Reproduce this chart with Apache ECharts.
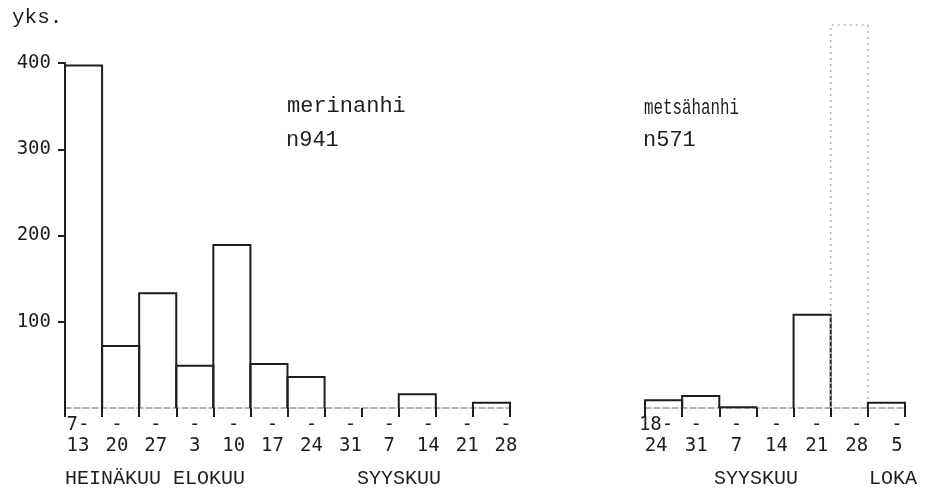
<!DOCTYPE html>
<html>
<head>
<meta charset="utf-8">
<script src="https://cdn.jsdelivr.net/npm/echarts@6/dist/echarts.min.js"></script>
<style>html,body{margin:0;padding:0;background:#fff}#c{width:935px;height:493px}</style>
</head>
<body>
<div id="c"></div>
<script>
// merinanhi (n941), weekly counts July–September
const merCategories = ["7-13.7","14-20.7","21-27.7","28.7-3.8","4-10.8","11-17.8","18-24.8","25-31.8","1-7.9","8-14.9","15-21.9","22-28.9"];
const merValues = [397, 72, 133, 49, 189, 51, 36, 0, 0, 16, 0, 6];
const merTickLabels = ["7-\n13","-\n20","-\n27","-\n3","-\n10","-\n17","-\n24","-\n31","-\n7","-\n14","-\n21","-\n28"];

// metsähanhi (n571), weekly counts August–October
const metCategories = ["18-24.8","25-31.8","1-7.9","8-14.9","15-21.9","22-28.9","29.9-5.10"];
const metValues = [9, 14, 1, 0, 108, 444, 6];
const metTickLabels = ["18-\n24","-\n31","-\n7","-\n14","-\n21","-\n28","-\n5"];

const yTicks = [0, 100, 200, 300, 400];
const monthLabels = ["HEINÄKUU ELOKUU", "SYYSKUU", "SYYSKUU", "LOKA"];
const seriesNames = ["merinanhi", "metsähanhi"];
const seriesTotals = ["n941", "n571"];
const unitLabel = "yks.";

const FONT = '"Liberation Mono", "DejaVu Sans Mono", monospace';
const NUMFONT = '"DejaVu Sans Mono", "Liberation Mono", monospace';
const INK = '#1e1e1e';
const Y_MAX = yTicks[yTicks.length - 1];

function renderBar(params, api) {
  const idx = api.value(0);
  const v = api.value(1);
  if (!(v > 0)) return null;
  const base = api.coord([idx, 0]);
  const top = api.coord([idx, v]);
  const w = api.size([1, 0])[0];
  const x0 = base[0] - w / 2, x1 = base[0] + w / 2;
  const faint = v > Y_MAX;
  return {
    type: 'polyline',
    shape: { points: [[x0, base[1]], [x0, top[1]], [x1, top[1]], [x1, base[1]]] },
    style: faint
      ? { stroke: '#b5b5b5', lineWidth: 1.5, fill: null, lineDash: [2, 4] }
      : { stroke: INK, lineWidth: 2, fill: null }
  };
}

const barAxis = (data, gi) => ({
  type: 'category', gridIndex: gi, data: data, boundaryGap: true,
  axisLine: { show: true, lineStyle: { color: '#9a9a9a', width: 1.5, type: 'dashed' } },
  axisTick: { show: true, interval: 0, length: 9, lineStyle: { color: INK, width: 2 } },
  axisLabel: { show: false }
});
const labelAxis = (data, gi) => ({
  type: 'category', gridIndex: gi, data: data, boundaryGap: true,
  axisLine: { show: false }, axisTick: { show: false }, splitLine: { show: false },
  axisLabel: { show: true, interval: 0, margin: 7, fontFamily: NUMFONT, fontSize: 19, lineHeight: 21, color: INK }
});
const hiddenY = (gi) => ({ type: 'value', gridIndex: gi, min: 0, max: Y_MAX, interval: 100, show: false });

const txt = (text, x, y, size, extra) => Object.assign({
  type: 'text', x: x, y: y,
  style: { text: text, font: size + 'px ' + FONT, fill: INK, verticalAlign: 'middle', align: 'left' }
}, extra || {});

const chart = echarts.init(document.getElementById('c'), null, { renderer: 'canvas' });
chart.setOption({
  animation: false,
  backgroundColor: '#fff',
  grid: [
    { left: 65, right: 425, top: 63, bottom: 85 },
    { left: 645, right: 30, top: 63, bottom: 85 },
    { left: 58.5, right: 409.5, top: 63, bottom: 85 },
    { left: 636, right: 18, top: 63, bottom: 85 }
  ],
  xAxis: [
    barAxis(merCategories, 0),
    barAxis(metCategories, 1),
    labelAxis(merTickLabels, 2),
    labelAxis(metTickLabels, 3)
  ],
  yAxis: [
    {
      type: 'value', gridIndex: 0, min: 0, max: Y_MAX, interval: 100,
      axisLine: { show: true, lineStyle: { color: INK, width: 2 } },
      axisTick: { show: true, length: 7, lineStyle: { color: INK, width: 2 } },
      axisLabel: { margin: 14, fontFamily: NUMFONT, fontSize: 19, color: INK, showMinLabel: false },
      splitLine: { show: false }
    },
    hiddenY(1), hiddenY(2), hiddenY(3)
  ],
  series: [
    { name: seriesNames[0], type: 'custom', xAxisIndex: 0, yAxisIndex: 0, clip: false,
      renderItem: renderBar, data: merValues.map((v, i) => [i, v]) },
    { name: seriesNames[1], type: 'custom', xAxisIndex: 1, yAxisIndex: 1, clip: false,
      renderItem: renderBar, data: metValues.map((v, i) => [i, v]) }
  ],
  graphic: [
    txt(unitLabel, 12, 17, 21),
    txt(seriesNames[0], 287, 106, 22),
    txt(seriesTotals[0], 286, 140, 22),
    txt(seriesNames[1], 644, 108, 22, { scaleX: 0.72 }),
    txt(seriesTotals[1], 643, 140, 22),
    txt(monthLabels[0], 65, 479, 20),
    txt(monthLabels[1], 357, 479, 20),
    txt(monthLabels[2], 714, 479, 20),
    txt(monthLabels[3], 869, 479, 20)
  ]
});
</script>
</body>
</html>
